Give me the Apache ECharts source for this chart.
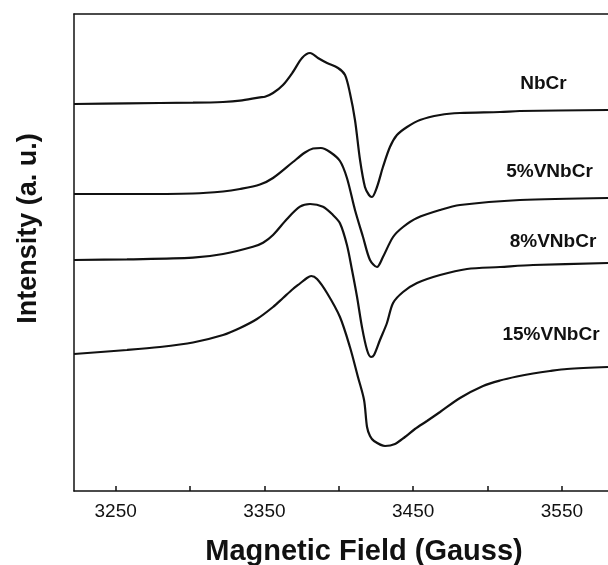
<!DOCTYPE html>
<html>
<head>
<meta charset="utf-8">
<script src="https://cdn.jsdelivr.net/npm/echarts@6/dist/echarts.min.js"></script>
<style>
  html, body { margin: 0; padding: 0; background: #fff; }
  #chart { width: 608px; height: 565px; }
</style>
</head>
<body>
<div id="chart"></div>
<script>
// EPR spectra, each trace stacked with its own vertical offset (arbitrary units).
// Each entry: [magnetic field (G), intensity (a.u.)]
const nbcr = [
  [3222, 387], [3257.6, 387.7], [3302, 388.3], [3322.2, 389], [3333.6, 390.3],
  [3347, 393.7], [3350.4, 394.3], [3355.8, 398], [3362.5, 406], [3369.2, 419],
  [3375.3, 433], [3380.7, 438], [3386, 433], [3392.1, 428], [3399.5, 423],
  [3404.2, 416], [3407.5, 398], [3410.9, 371], [3414.3, 331], [3417.6, 304],
  [3420.3, 296], [3422.3, 294], [3425.7, 304], [3429.7, 324], [3434.4, 344],
  [3439.1, 356], [3445.9, 364], [3454.6, 371], [3468.1, 376], [3481.5, 378],
  [3508.4, 379], [3521.8, 380], [3581, 381]
];
const v5NbCr = [
  [3222, 297], [3257.6, 297], [3302, 297.5], [3322.2, 299.5], [3333.6, 302],
  [3347, 306.5], [3355.8, 313], [3369.2, 329], [3377.3, 338.5], [3382.7, 342.5],
  [3388, 343], [3394.1, 339], [3400.8, 330], [3405.5, 313], [3410.9, 281],
  [3416.3, 254], [3421, 231], [3425.7, 224], [3429.7, 234], [3436.5, 254],
  [3443.2, 264], [3452.6, 273], [3468.1, 281], [3481.5, 286], [3521.8, 291],
  [3581, 293]
];
const v8NbCr = [
  [3222, 231], [3257.6, 231.7], [3302, 233.3], [3322.2, 237], [3342.3, 244.3],
  [3349.1, 248.3], [3355.8, 256], [3365.2, 272], [3373.9, 284.3], [3380.7, 287],
  [3389.4, 284.3], [3396.1, 276], [3400.8, 267.7], [3405.5, 246], [3408.9, 221],
  [3412.3, 194], [3415.6, 164], [3419, 141], [3421.7, 134], [3423.7, 136],
  [3427.7, 151], [3432.4, 168], [3436.5, 188], [3443.2, 199], [3452.6, 208],
  [3468.1, 216], [3486.2, 222], [3508.4, 224], [3530.6, 226], [3581, 228]
];
const v15NbCr = [
  [3222, 137], [3257.6, 141], [3279.8, 144], [3302, 148.5], [3322.2, 156],
  [3333.6, 163], [3345, 172], [3355.8, 184], [3362.5, 193], [3369.2, 202],
  [3373.9, 207.5], [3378.6, 213], [3381.5, 215], [3385.4, 212], [3392.1, 198],
  [3400.8, 174], [3407.5, 144], [3412.9, 114], [3417, 91], [3419, 64],
  [3421, 55], [3423.7, 50], [3431.1, 45], [3437.8, 47], [3444.5, 54],
  [3451.2, 62], [3459.3, 70], [3468.1, 79], [3481.5, 93], [3497, 105],
  [3508.4, 110.5], [3519.8, 114.5], [3530.6, 117.5], [3542, 120], [3553.4, 122],
  [3581, 124]
];

const sampleNames = ['NbCr', '5%VNbCr', '8%VNbCr', '15%VNbCr'];
const fieldTicks = [3250, 3300, 3350, 3400, 3450, 3500, 3550];
const fieldLabels = [3250, 3350, 3450, 3550];
const axisTitles = { x: 'Magnetic Field (Gauss)', y: 'Intensity (a. u.)' };

const FONT = '"Liberation Sans", Arial, Helvetica, sans-serif';
const INK = '#111';

const chart = echarts.init(document.getElementById('chart'), null, { renderer: 'canvas' });

function trace(name, data) {
  return {
    name: name,
    type: 'line',
    data: data,
    smooth: 0.3,
    symbol: 'none',
    silent: true,
    lineStyle: { color: INK, width: 2.2 },
    animation: false
  };
}

function sampleLabel(text, x, y) {
  return {
    type: 'text',
    x: x, y: y,
    style: {
      text: text, x: 0, y: 0,
      align: 'center', verticalAlign: 'middle',
      font: 'bold 19px ' + FONT, fill: INK
    }
  };
}

chart.setOption({
  backgroundColor: '#fff',
  animation: false,
  grid: { left: 74, right: 0, top: 14, bottom: 74 },
  xAxis: [
    {
      type: 'value',
      min: 3222,
      max: 3581,
      position: 'bottom',
      axisLine: { show: true, onZero: false, lineStyle: { color: INK, width: 1.5 } },
      axisTick: { show: true, inside: true, length: 5, customValues: fieldTicks,
                  lineStyle: { color: INK, width: 1.5 } },
      axisLabel: { customValues: fieldLabels, margin: 11, color: INK,
                   fontFamily: FONT, fontSize: 19,
                   formatter: function (v) { return String(v); } },
      splitLine: { show: false }
    },
    {
      type: 'value',
      min: 3222,
      max: 3581,
      position: 'top',
      axisLine: { show: true, onZero: false, lineStyle: { color: INK, width: 1.5 } },
      axisTick: { show: false },
      axisLabel: { show: false },
      splitLine: { show: false }
    }
  ],
  yAxis: {
    type: 'value',
    min: 0,
    max: 477,
    axisLine: { show: true, onZero: false, lineStyle: { color: INK, width: 1.5 } },
    axisTick: { show: false },
    axisLabel: { show: false },
    splitLine: { show: false }
  },
  series: [
    trace(sampleNames[0], nbcr),
    trace(sampleNames[1], v5NbCr),
    trace(sampleNames[2], v8NbCr),
    trace(sampleNames[3], v15NbCr)
  ],
  graphic: [
    sampleLabel(sampleNames[0], 543.5, 83.5),
    sampleLabel(sampleNames[1], 549.5, 172),
    sampleLabel(sampleNames[2], 553, 241.5),
    sampleLabel(sampleNames[3], 551, 335),
    {
      type: 'text',
      x: 364, y: 552,
      style: {
        text: axisTitles.x, x: 0, y: 0,
        align: 'center', verticalAlign: 'middle',
        font: 'bold 29px ' + FONT, fill: INK
      }
    },
    {
      type: 'text',
      x: 28.5, y: 228.5,
      rotation: Math.PI / 2,
      style: {
        text: axisTitles.y, x: 0, y: 0,
        align: 'center', verticalAlign: 'middle',
        font: 'bold 27px ' + FONT, fill: INK
      }
    }
  ]
});
</script>
</body>
</html>
